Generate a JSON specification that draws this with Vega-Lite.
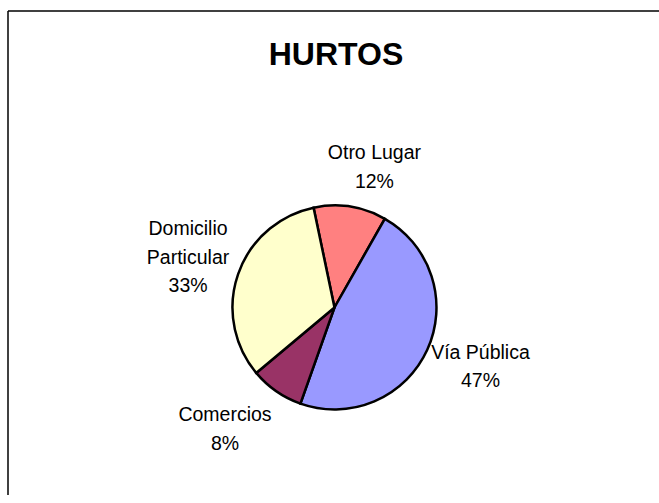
{
  "$schema": "https://vega.github.io/schema/vega-lite/v6.json",
  "autosize": {"type": "none"},
  "width": 651,
  "height": 484,
  "padding": {"left": 8, "top": 11, "right": 0, "bottom": 0},
  "background": "white",
  "view": {"stroke": null},
  "title": {
    "text": "HURTOS",
    "font": "Liberation Sans",
    "fontSize": 32,
    "fontWeight": "bold",
    "color": "black",
    "anchor": "middle",
    "baseline": "alphabetic",
    "offset": -57,
    "dx": 2.5,
    "dy": 30
  },
  "data": {
    "values": [
      {"cat": "Otro Lugar", "pct": 11.5, "label": "Otro Lugar\n12%"},
      {"cat": "Vía Pública", "pct": 47.2, "label": "Vía Pública\n47%"},
      {"cat": "Comercios", "pct": 8.5, "label": "Comercios\n8%"},
      {"cat": "Domicilio Particular", "pct": 32.8, "label": "Domicilio\nParticular\n33%"}
    ]
  },
  "layer": [
    {
      "data": {"values": [{"frame": "top"}]},
      "mark": {"type": "rule", "color": "black", "strokeWidth": 1.5},
      "encoding": {"x": {"value": 0}, "x2": {"value": "width"}, "y": {"value": 0}}
    },
    {
      "data": {"values": [{"frame": "left"}]},
      "mark": {"type": "rule", "color": "black", "strokeWidth": 1.5},
      "encoding": {"x": {"value": 0}, "y": {"value": 0}, "y2": {"value": "height"}}
    },
    {
      "mark": {"type": "arc", "outerRadius": 102, "stroke": "black", "strokeWidth": 2.5, "x": {"expr": "width * 0.5015"}, "y": {"expr": "height * 0.6126"}},
      "encoding": {
        "theta": {"field": "pct", "type": "quantitative", "stack": true, "scale": {"range": [3.482, 9.765]}},
        "order": {"field": "cat", "type": "nominal", "sort": "ascending"},
        "color": {
          "field": "cat",
          "type": "nominal",
          "legend": null,
          "scale": {
            "domain": ["Comercios", "Domicilio Particular", "Otro Lugar", "Vía Pública"],
            "range": ["#993366", "#FFFFCC", "#FF8080", "#9999FF"]
          }
        }
      }
    },
    {
      "mark": {
        "type": "text",
        "radius": 155,
        "x": {"expr": "width * 0.5015"},
        "y": {"expr": "height * 0.6126"},
        "font": "Liberation Sans",
        "fontSize": 19.5,
        "lineHeight": 28.5,
        "lineBreak": "\n",
        "align": "center",
        "baseline": "middle",
        "color": "black",
        "dx": {"expr": "datum.cat == 'Otro Lugar' ? 16 : datum.cat == 'Vía Pública' ? 5 : datum.cat == 'Comercios' ? -21 : 0"},
        "dy": {"expr": "datum.cat == 'Otro Lugar' ? -1 : datum.cat == 'Vía Pública' ? -19 : datum.cat == 'Comercios' ? -19.5 : -27.5"}
      },
      "encoding": {
        "theta": {"field": "pct", "type": "quantitative", "stack": true},
        "order": {"field": "cat", "type": "nominal", "sort": "ascending"},
        "text": {"field": "label", "type": "nominal"}
      }
    }
  ]
}
